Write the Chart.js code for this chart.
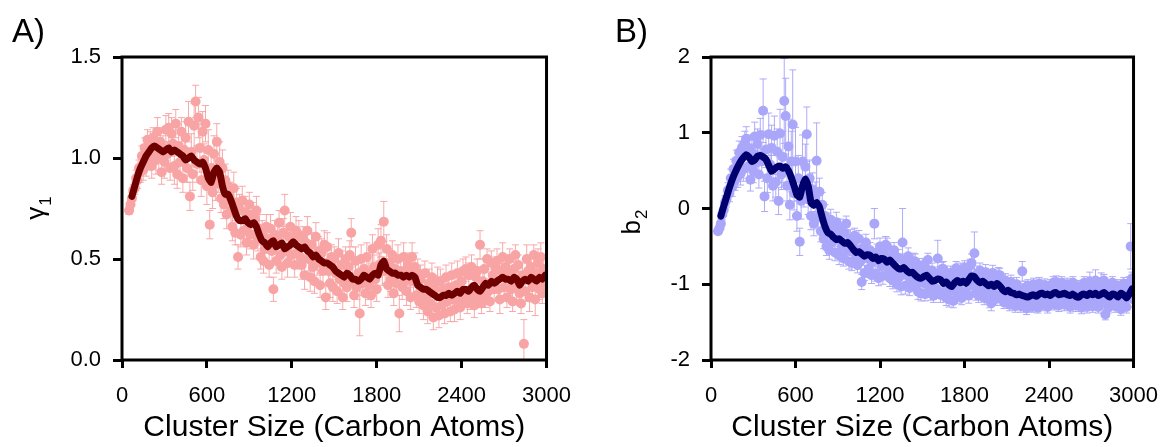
<!DOCTYPE html>
<html>
<head>
<meta charset="utf-8">
<script src="https://cdn.jsdelivr.net/npm/chart.js@4.4.0/dist/chart.umd.min.js"></script>
<style>
  body { margin:0; background:#fff; width:1173px; height:447px; overflow:hidden; position:relative;
         font-family:'Liberation Sans', Arial, sans-serif; }
  canvas { position:absolute; top:0; }
  .tag { position:absolute; top:14px; font-size:33px; line-height:33px; color:#000; }
</style>
</head>
<body>
<canvas id="chartA" style="left:0" width="586" height="447"></canvas>
<canvas id="chartB" style="left:586px" width="587" height="447"></canvas>
<div class="tag" style="left:12px">A)</div>
<div class="tag" style="left:615px">B)</div>
<script>
/* ── data ─────────────────────────────────────────── */
const FONT = "'Liberation Sans', Arial, sans-serif";

// cluster sizes: points every 10 atoms from 50, running average every 20 atoms from 70
const SIZE_START = 50, SIZE_STEP = 10;
const AVG_START  = 70, AVG_STEP  = 20;

const xTicks     = [0, 600, 1200, 1800, 2400, 3000];
const gammaTicks = [0, 0.5, 1.0, 1.5];
const b2Ticks    = [-2, -1, 0, 1, 2];

// panel A – gamma_1
const gammaPts = [
  0.74,0.77,0.80,0.84,0.85,0.90,0.89,0.95,0.93,1.01,0.94,1.05,0.97,1.09,1.00,1.07,0.96,1.10,1.03,0.99,
  1.13,1.00,1.08,0.93,1.05,0.98,1.14,1.02,1.15,0.95,1.12,1.07,0.96,1.17,0.92,1.06,0.98,1.13,0.90,1.04,
  1.10,0.95,1.18,0.81,1.03,0.92,1.16,1.28,0.97,1.20,1.05,0.89,1.13,0.99,1.17,0.86,1.04,0.67,0.95,0.83,
  1.02,0.87,1.08,0.91,0.98,0.80,0.95,0.77,0.89,0.72,0.86,0.81,0.74,0.66,0.85,0.63,0.78,0.51,0.75,0.62,
  0.79,0.64,0.73,0.58,0.66,0.77,0.62,0.72,0.57,0.70,0.74,0.60,0.65,0.51,0.62,0.49,0.55,0.66,0.60,0.47,
  0.65,0.54,0.35,0.62,0.49,0.60,0.68,0.52,0.46,0.63,0.74,0.54,0.48,0.61,0.66,0.52,0.59,0.47,0.64,0.53,
  0.62,0.51,0.47,0.60,0.42,0.58,0.64,0.50,0.41,0.57,0.46,0.39,0.61,0.48,0.54,0.37,0.53,0.44,0.57,0.31,
  0.56,0.44,0.38,0.51,0.36,0.50,0.43,0.34,0.53,0.40,0.47,0.31,0.38,0.50,0.36,0.46,0.52,0.63,0.39,0.32,
  0.49,0.36,0.43,0.23,0.50,0.38,0.45,0.33,0.51,0.43,0.37,0.32,0.55,0.46,0.40,0.35,0.57,0.47,0.59,0.44,
  0.685,0.44,0.55,0.37,0.48,0.40,0.52,0.33,0.45,0.38,0.50,0.23,0.44,0.36,0.51,0.39,0.34,0.47,0.43,0.31,
  0.51,0.39,0.46,0.32,0.43,0.29,0.40,0.33,0.27,0.43,0.31,0.24,0.38,0.28,0.41,0.21,0.35,0.26,0.39,0.22,
  0.39,0.27,0.35,0.23,0.41,0.29,0.36,0.24,0.42,0.30,0.25,0.37,0.43,0.29,0.26,0.39,0.44,0.31,0.45,0.28,
  0.42,0.30,0.46,0.33,0.27,0.41,0.44,0.31,0.57,0.28,0.39,0.45,0.32,0.50,0.34,0.29,0.48,0.42,0.35,0.46,
  0.49,0.35,0.30,0.44,0.51,0.36,0.46,0.31,0.43,0.50,0.35,0.29,0.45,0.52,0.37,0.47,0.33,0.28,0.42,0.08,
  0.34,0.50,0.44,0.31,0.46,0.36,0.52,0.30,0.43,0.48,0.35,0.51,0.33,0.45,0.37,0.44
];
const gammaErr = [
  0.02,0.02,0.03,0.03,0.03,0.04,0.04,0.04,0.05,0.05,0.05,0.05,0.06,0.05,0.06,0.06,0.06,0.05,0.06,0.07,
  0.07,0.06,0.07,0.06,0.06,0.08,0.07,0.06,0.07,0.06,0.08,0.06,0.09,0.07,0.07,0.08,0.07,0.07,0.07,0.08,
  0.08,0.07,0.10,0.07,0.09,0.08,0.11,0.08,0.09,0.10,0.12,0.08,0.10,0.08,0.09,0.09,0.10,0.07,0.09,0.08,
  0.09,0.08,0.09,0.08,0.10,0.07,0.09,0.07,0.08,0.07,0.08,0.07,0.08,0.07,0.08,0.06,0.07,0.06,0.07,0.06,
  0.07,0.06,0.08,0.06,0.07,0.06,0.07,0.06,0.07,0.06,0.07,0.06,0.07,0.06,0.07,0.06,0.06,0.06,0.07,0.06,
  0.07,0.06,0.06,0.07,0.06,0.07,0.06,0.07,0.06,0.07,0.08,0.06,0.07,0.06,0.07,0.06,0.07,0.06,0.07,0.06,
  0.07,0.06,0.07,0.06,0.07,0.06,0.07,0.06,0.07,0.06,0.07,0.06,0.07,0.06,0.07,0.06,0.07,0.06,0.07,0.06,
  0.07,0.06,0.07,0.06,0.07,0.06,0.07,0.06,0.07,0.06,0.07,0.06,0.07,0.06,0.07,0.06,0.07,0.07,0.07,0.06,
  0.07,0.06,0.07,0.11,0.07,0.06,0.07,0.06,0.07,0.06,0.07,0.06,0.07,0.06,0.07,0.06,0.08,0.06,0.08,0.07,
  0.10,0.06,0.07,0.06,0.07,0.06,0.07,0.06,0.07,0.06,0.07,0.09,0.07,0.06,0.07,0.06,0.07,0.06,0.07,0.06,
  0.07,0.06,0.07,0.06,0.07,0.06,0.07,0.06,0.07,0.06,0.07,0.06,0.07,0.06,0.07,0.06,0.07,0.06,0.07,0.06,
  0.06,0.05,0.06,0.05,0.06,0.05,0.06,0.05,0.06,0.05,0.06,0.05,0.06,0.05,0.06,0.05,0.06,0.05,0.06,0.05,
  0.06,0.05,0.06,0.05,0.06,0.05,0.06,0.05,0.07,0.05,0.06,0.05,0.06,0.05,0.06,0.05,0.06,0.05,0.06,0.05,
  0.06,0.05,0.07,0.05,0.07,0.05,0.06,0.05,0.07,0.05,0.06,0.05,0.07,0.05,0.07,0.05,0.06,0.05,0.06,0.12,
  0.05,0.07,0.05,0.07,0.05,0.07,0.05,0.08,0.05,0.07,0.05,0.07,0.05,0.06,0.05,0.06
];
const gammaAvg = [
  0.81,0.86,0.91,0.95,0.98,1.01,1.03,1.05,1.06,1.05,
  1.04,1.03,1.04,1.05,1.03,1.04,1.03,1.02,1.01,0.99,
  1.00,1.01,0.99,0.98,0.97,0.98,0.95,0.90,0.88,0.93,
  0.95,0.93,0.86,0.82,0.82,0.79,0.75,0.71,0.69,0.69,
  0.70,0.68,0.67,0.68,0.66,0.62,0.59,0.58,0.56,0.58,
  0.59,0.56,0.57,0.58,0.55,0.56,0.57,0.585,0.57,0.56,
  0.55,0.56,0.54,0.53,0.51,0.52,0.50,0.49,0.48,0.48,
  0.47,0.46,0.44,0.43,0.42,0.41,0.43,0.42,0.40,0.40,
  0.39,0.40,0.42,0.41,0.40,0.42,0.43,0.42,0.47,0.49,
  0.45,0.44,0.43,0.43,0.42,0.42,0.41,0.42,0.41,0.42,
  0.41,0.37,0.36,0.35,0.35,0.34,0.33,0.32,0.31,0.31,
  0.32,0.32,0.33,0.32,0.33,0.34,0.33,0.35,0.35,0.34,
  0.36,0.37,0.35,0.34,0.36,0.38,0.37,0.39,0.38,0.39,
  0.40,0.41,0.40,0.40,0.39,0.41,0.40,0.37,0.39,0.40,
  0.39,0.41,0.40,0.39,0.41,0.40,0.42
];

// panel B – b_2
const b2Pts = [
  -0.30,-0.26,-0.20,-0.08,-0.02,0.08,0.12,0.24,0.20,0.40,0.28,0.52,0.37,0.63,0.42,0.74,0.46,0.80,0.52,0.86,
  0.92,0.55,0.80,0.38,0.74,0.50,0.95,0.60,0.85,0.45,0.97,0.62,1.29,0.16,0.78,0.40,0.98,0.58,0.80,0.30,
  0.96,0.35,0.75,0.10,0.99,0.45,0.68,1.42,1.22,0.30,0.82,0.05,0.62,1.11,0.20,0.62,-0.10,0.40,-0.44,0.10,
  0.62,0.20,0.55,0.98,0.12,0.40,-0.10,0.25,-0.20,0.15,0.63,-0.12,0.22,-0.30,0.05,-0.40,-0.10,-0.50,-0.20,-0.55,
  -0.15,-0.45,-0.28,-0.58,-0.18,-0.35,-0.62,-0.25,-0.50,-0.66,-0.32,-0.20,-0.55,-0.70,-0.40,-0.72,-0.50,-0.36,-0.64,-0.75,
  -0.40,-0.70,-0.97,-0.52,-0.85,-0.45,-0.66,-0.80,-0.55,-0.88,-0.70,-0.20,-0.86,-0.58,-0.92,-0.50,-0.76,-0.89,-0.60,-0.48,
  -0.50,-0.80,-0.92,-0.62,-0.95,-0.55,-0.84,-1.00,-0.65,-0.90,-1.03,-0.45,-0.70,-1.02,-0.88,-0.63,-1.05,-0.76,-0.96,-0.70,
  -0.70,-1.00,-1.10,-0.80,-1.12,-0.75,-0.98,-1.13,-0.80,-0.68,-1.04,-1.12,-0.82,-1.15,-0.90,-1.06,-0.66,-0.86,-1.14,-0.80,
  -0.80,-1.10,-1.18,-0.90,-1.20,-0.85,-1.08,-1.22,-0.92,-0.79,-1.15,-1.05,-0.82,-1.18,-0.90,-0.78,-1.10,-0.86,-1.15,-0.76,
  -0.72,-1.02,-0.59,-1.12,-0.86,-1.15,-0.82,-1.06,-0.90,-1.18,-0.84,-1.10,-0.94,-1.22,-1.25,-0.85,-1.12,-0.95,-1.19,-0.88,
  -0.88,-1.15,-1.00,-1.24,-0.95,-1.18,-1.03,-1.27,-0.97,-1.20,-1.06,-1.29,-1.00,-1.21,-1.08,-1.29,-0.83,-1.24,-1.05,-1.32,
  -1.02,-1.24,-1.10,-1.30,-1.00,-1.21,-1.08,-1.31,-0.99,-1.19,-1.27,-1.06,-1.01,-1.23,-1.30,-1.09,-1.02,-1.22,-0.98,-1.27,
  -0.97,-1.20,-1.28,-1.06,-0.98,-1.22,-1.27,-1.08,-1.00,-1.23,-1.30,-1.10,-0.98,-1.21,-1.28,-1.07,-1.03,-1.24,-1.31,-1.09,
  -0.98,-1.21,-1.30,-1.08,-0.96,-1.22,-1.29,-1.05,-0.95,-1.20,-1.30,-1.09,-0.97,-1.23,-0.95,-1.40,-1.07,-1.31,-1.20,-1.02,
  -0.98,-1.22,-1.29,-1.08,-1.02,-1.24,-1.33,-1.06,-0.99,-1.21,-1.30,-1.10,-0.98,-0.50,-0.92,-1.20
];
const b2Err = [
  0.04,0.05,0.06,0.07,0.08,0.09,0.10,0.10,0.11,0.12,0.12,0.13,0.13,0.14,0.14,0.15,0.15,0.15,0.16,0.16,
  0.16,0.15,0.17,0.15,0.18,0.16,0.19,0.17,0.20,0.18,0.22,0.17,0.42,0.20,0.24,0.19,0.28,0.18,0.30,0.20,
  0.26,0.20,0.30,0.18,0.32,0.20,0.34,0.56,0.50,0.20,0.36,0.20,0.40,0.72,0.22,0.45,0.20,0.30,0.18,0.24,
  0.35,0.18,0.30,0.36,0.20,0.24,0.18,0.22,0.16,0.20,0.50,0.15,0.18,0.14,0.16,0.13,0.15,0.12,0.14,0.12,
  0.14,0.12,0.13,0.11,0.13,0.11,0.12,0.11,0.13,0.10,0.12,0.10,0.12,0.10,0.12,0.10,0.11,0.10,0.11,0.10,
  0.11,0.10,0.10,0.11,0.10,0.11,0.10,0.11,0.10,0.11,0.10,0.20,0.10,0.11,0.10,0.11,0.10,0.11,0.10,0.11,
  0.11,0.10,0.11,0.10,0.11,0.10,0.11,0.10,0.11,0.10,0.11,0.45,0.10,0.11,0.10,0.11,0.10,0.11,0.10,0.11,
  0.10,0.09,0.10,0.09,0.10,0.09,0.12,0.09,0.10,0.09,0.10,0.09,0.10,0.09,0.10,0.09,0.24,0.09,0.10,0.09,
  0.10,0.09,0.10,0.09,0.10,0.09,0.10,0.09,0.10,0.09,0.10,0.09,0.10,0.09,0.10,0.09,0.10,0.09,0.10,0.09,
  0.12,0.09,0.28,0.09,0.10,0.09,0.10,0.09,0.10,0.09,0.10,0.09,0.10,0.09,0.10,0.10,0.09,0.10,0.09,0.10,
  0.09,0.08,0.09,0.08,0.09,0.08,0.09,0.08,0.09,0.08,0.09,0.08,0.09,0.08,0.09,0.08,0.13,0.08,0.09,0.08,
  0.08,0.07,0.08,0.07,0.08,0.07,0.08,0.07,0.08,0.07,0.08,0.07,0.08,0.07,0.08,0.07,0.08,0.07,0.08,0.07,
  0.08,0.07,0.08,0.07,0.08,0.07,0.08,0.07,0.08,0.07,0.08,0.07,0.08,0.07,0.08,0.07,0.08,0.07,0.08,0.07,
  0.08,0.07,0.08,0.07,0.12,0.07,0.08,0.07,0.14,0.07,0.08,0.07,0.12,0.07,0.08,0.07,0.08,0.07,0.08,0.07,
  0.08,0.07,0.08,0.07,0.08,0.07,0.08,0.07,0.08,0.07,0.08,0.07,0.08,0.30,0.08,0.10
];
const b2Avg = [
  -0.10,0.03,0.15,0.27,0.38,0.47,0.55,0.62,0.67,0.71,
  0.68,0.62,0.64,0.69,0.70,0.68,0.65,0.57,0.49,0.52,
  0.55,0.56,0.53,0.55,0.50,0.41,0.30,0.18,0.15,0.30,
  0.39,0.30,0.08,0.04,0.08,0.02,-0.12,-0.24,-0.32,-0.34,
  -0.38,-0.41,-0.40,-0.43,-0.46,-0.45,-0.49,-0.54,-0.58,-0.57,
  -0.60,-0.63,-0.61,-0.62,-0.66,-0.64,-0.69,-0.66,-0.67,-0.71,
  -0.68,-0.72,-0.76,-0.79,-0.80,-0.78,-0.82,-0.85,-0.84,-0.88,
  -0.91,-0.92,-0.90,-0.88,-0.92,-0.96,-0.95,-0.93,-0.94,-0.99,
  -0.97,-1.01,-1.03,-0.98,-0.95,-0.98,-0.96,-0.99,-0.94,-0.89,
  -0.90,-0.95,-0.98,-0.96,-0.99,-1.02,-1.00,-1.03,-0.99,-1.02,
  -1.07,-1.10,-1.08,-1.11,-1.12,-1.14,-1.13,-1.15,-1.16,-1.17,
  -1.15,-1.14,-1.16,-1.13,-1.12,-1.14,-1.13,-1.15,-1.12,-1.11,
  -1.14,-1.13,-1.12,-1.14,-1.15,-1.13,-1.16,-1.17,-1.14,-1.13,
  -1.15,-1.12,-1.14,-1.12,-1.15,-1.13,-1.11,-1.14,-1.17,-1.13,
  -1.14,-1.17,-1.12,-1.14,-1.18,-1.13,-1.06
];

/* ── plugins ──────────────────────────────────────── */
// vertical error bars with caps, drawn under the markers
const errorBars = {
  id: 'errorBars',
  beforeDatasetsDraw(chart, args, opts) {
    const { ctx, chartArea: a, scales: { x, y } } = chart;
    const pts = chart.data.datasets[opts.dataset].data;
    ctx.save();
    ctx.beginPath();
    ctx.rect(a.left, a.top, a.right - a.left, a.bottom - a.top);
    ctx.clip();
    ctx.strokeStyle = opts.color;
    ctx.lineWidth = 1;
    ctx.beginPath();
    pts.forEach((p, i) => {
      const e = opts.errors[i];
      if (e == null) return;
      const px = x.getPixelForValue(p.x);
      const hi = y.getPixelForValue(p.y + e), lo = y.getPixelForValue(p.y - e);
      ctx.moveTo(px, hi); ctx.lineTo(px, lo);
      ctx.moveTo(px - 3.5, hi); ctx.lineTo(px + 3.5, hi);
      ctx.moveTo(px - 3.5, lo); ctx.lineTo(px + 3.5, lo);
    });
    ctx.stroke();
    ctx.restore();
  }
};

// box round the plot + rotated y title with a subscript
const frame = {
  id: 'frame',
  afterDatasetsDraw(chart, args, o) {
    const { ctx, chartArea: a } = chart;
    ctx.save();
    ctx.strokeStyle = '#000';
    ctx.lineWidth = 3;
    ctx.strokeRect(a.left, a.top, a.right - a.left, a.bottom - a.top);

    ctx.translate(o.titleX, (a.top + a.bottom) / 2 + o.titleShift);
    ctx.rotate(-Math.PI / 2);
    ctx.fillStyle = '#000';
    ctx.textBaseline = 'alphabetic';
    ctx.font = `26px ${FONT}`;
    const w1 = ctx.measureText(o.title).width;
    ctx.font = `17px ${FONT}`;
    const w2 = ctx.measureText(o.sub).width;
    const x0 = -(w1 + w2) / 2;
    ctx.font = `26px ${FONT}`;
    ctx.fillText(o.title, x0, 0);
    ctx.font = `17px ${FONT}`;
    ctx.fillText(o.sub, x0 + w1 + 1, 7);
    ctx.restore();
  }
};

/* ── chart builder ────────────────────────────────── */
function makeChart(id, o) {
  const pts = o.pts.map((v, i) => ({ x: SIZE_START + i * SIZE_STEP, y: v }));
  const avg = o.avg.map((v, i) => ({ x: AVG_START + i * AVG_STEP, y: v }));
  const tickFont = { size: 22, family: FONT };

  return new Chart(document.getElementById(id), {
    type: 'scatter',
    data: {
      datasets: [
        { type: 'line', data: avg, borderColor: o.lineColor, borderWidth: 7, pointRadius: 0,
          tension: 0.15, borderJoinStyle: 'round', borderCapStyle: 'round', order: 0 },
        { data: pts, backgroundColor: o.ptColor, borderWidth: 0, pointRadius: 5, order: 1 }
      ]
    },
    options: {
      responsive: false,
      animation: false,
      events: [],
      layout: { padding: { top: 57, right: o.padRight, left: 0, bottom: 0 } },
      plugins: {
        legend: { display: false },
        tooltip: { enabled: false },
        errorBars: { dataset: 1, errors: o.err, color: o.errColor },
        frame: { title: o.title, sub: o.sub, titleX: o.titleX, titleShift: o.titleShift }
      },
      scales: {
        x: {
          type: 'linear', min: 0, max: 3000,
          afterBuildTicks: s => { s.ticks = xTicks.map(v => ({ value: v })); },
          afterFit: s => { s.height = 87; },
          border: { display: false },
          grid: { drawOnChartArea: false, color: '#000', lineWidth: 3, tickLength: 8 },
          ticks: { color: '#000', font: tickFont, padding: 15, maxRotation: 0, autoSkip: false,
                   callback: v => String(v) },
          title: { display: true, text: 'Cluster Size (Carbon Atoms)', color: '#000',
                   font: { size: 30, family: FONT }, padding: { top: 0, bottom: 1 } }
        },
        y: {
          type: 'linear', min: o.yTicks[0], max: o.yTicks[o.yTicks.length - 1],
          afterBuildTicks: s => { s.ticks = o.yTicks.map(v => ({ value: v })); },
          afterFit: s => { s.width = o.axisLeft; },
          border: { display: false },
          grid: { drawOnChartArea: false, color: '#000', lineWidth: 3, tickLength: 9 },
          ticks: { color: '#000', font: tickFont, padding: 12, callback: o.fmt }
        }
      }
    },
    plugins: [errorBars, frame]
  });
}

makeChart('chartA', {
  pts: gammaPts, err: gammaErr, avg: gammaAvg, yTicks: gammaTicks,
  fmt: v => v.toFixed(1),
  ptColor: '#f8a4a4', errColor: 'rgba(247,160,160,0.9)', lineColor: '#6e0000',
  axisLeft: 122, padRight: 33, title: 'γ', sub: '1', titleX: 44, titleShift: 0
});

makeChart('chartB', {
  pts: b2Pts, err: b2Err, avg: b2Avg, yTicks: b2Ticks,
  fmt: v => String(v),
  ptColor: '#aaa7fa', errColor: 'rgba(165,162,248,0.9)', lineColor: '#00006e',
  axisLeft: 125, padRight: 30, title: 'b', sub: '2', titleX: 54, titleShift: 14
});
</script>
</body>
</html>
